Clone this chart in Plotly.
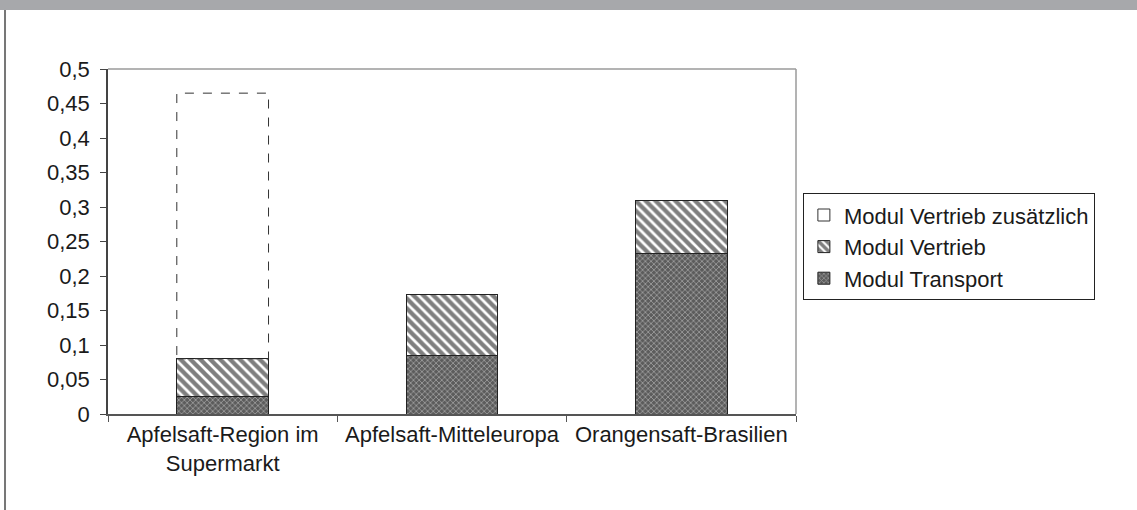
import plotly.graph_objects as go

# Kategorien und Werte
categories = ["Apfelsaft-Region im<br>Supermarkt", "Apfelsaft-Mitteleuropa", "Orangensaft-Brasilien"]
transport = [0.025, 0.085, 0.233]
vertrieb = [0.055, 0.088, 0.077]
vertrieb_zusaetzlich = [0.385, None, None]
y_ticks = [0, 0.05, 0.1, 0.15, 0.2, 0.25, 0.3, 0.35, 0.4, 0.45, 0.5]

FONT = "Liberation Sans, Arial, sans-serif"
TXT = "#1a1a1a"
FS = 22
BAR_W = 0.40

fig = go.Figure()

fig.add_trace(go.Bar(
    x=categories, y=transport, name="Modul Transport", legendrank=3,
    marker=dict(color="#5a5a5a", line=dict(color="#222", width=1),
                pattern=dict(shape="x", bgcolor="#5c5c5c", fgcolor="#d8d8d8",
                             size=4, solidity=0.4)),
))
fig.add_trace(go.Bar(
    x=categories, y=vertrieb, name="Modul Vertrieb", legendrank=2,
    marker=dict(color="white", line=dict(color="#222", width=1),
                pattern=dict(shape="\\", bgcolor="white", fgcolor="#000",
                             size=7, solidity=0.62)),
))

# gestrichelter Rahmen für den zusätzlichen Vertrieb
for i, extra in enumerate(vertrieb_zusaetzlich):
    if extra is None:
        continue
    base = transport[i] + vertrieb[i]
    fig.add_shape(
        type="rect", xref="x", yref="y",
        x0=i - BAR_W / 2, x1=i + BAR_W / 2, y0=base, y1=base + extra,
        line=dict(color="#333", width=1, dash="dash"),
        fillcolor="rgba(0,0,0,0)", layer="above",
        showlegend=True, name="Modul Vertrieb zusätzlich", legendrank=1,
    )

# Rahmen oben und rechts im Plotbereich
fig.add_shape(type="line", xref="paper", yref="paper", x0=0, x1=1, y0=1, y1=1,
              line=dict(color="#9a9a9a", width=1.5), layer="below")
fig.add_shape(type="line", xref="paper", yref="paper", x0=1, x1=1, y0=0, y1=1,
              line=dict(color="#9a9a9a", width=1.5), layer="below")

# grauer Streifen oben und linke Randlinie
fig.add_shape(type="rect", xref="paper", yref="paper",
              x0=-0.2, x1=1.6, y0=1.171, y1=1.25,
              fillcolor="#a7a8ab", line=dict(width=0))
fig.add_shape(type="line", xref="paper", yref="paper",
              x0=-0.1497, x1=-0.1497, y0=1.171, y1=-0.3,
              line=dict(color="#777", width=2))

fig.update_layout(
    width=1137, height=510,
    margin=dict(l=108, r=341, t=69, b=96),
    paper_bgcolor="white", plot_bgcolor="white",
    barmode="stack", bargap=1 - BAR_W,
    separators=",.",
    font=dict(family=FONT, size=FS, color=TXT),
    showlegend=True,
    legend=dict(
        x=1.01, y=0.64, xanchor="left", yanchor="top",
        traceorder="normal", bordercolor="#222", borderwidth=1,
        font=dict(family=FONT, size=FS, color=TXT),
        itemwidth=30, tracegroupgap=0, bgcolor="white",
    ),
)

fig.update_xaxes(
    type="category", showline=True, linecolor="#555", linewidth=1.5,
    ticks="outside", tickson="boundaries", ticklen=6, tickcolor="#555",
    showgrid=False, tickfont=dict(family=FONT, size=FS, color=TXT),
)
fig.update_yaxes(
    range=[0, 0.5], tickvals=y_ticks, showline=True, linecolor="#444",
    linewidth=1.5, ticks="outside", ticklen=6, tickcolor="#444",
    ticklabelstandoff=6,
    showgrid=False, zeroline=False, tickfont=dict(family=FONT, size=FS, color=TXT),
)

fig.write_html("out.html")
